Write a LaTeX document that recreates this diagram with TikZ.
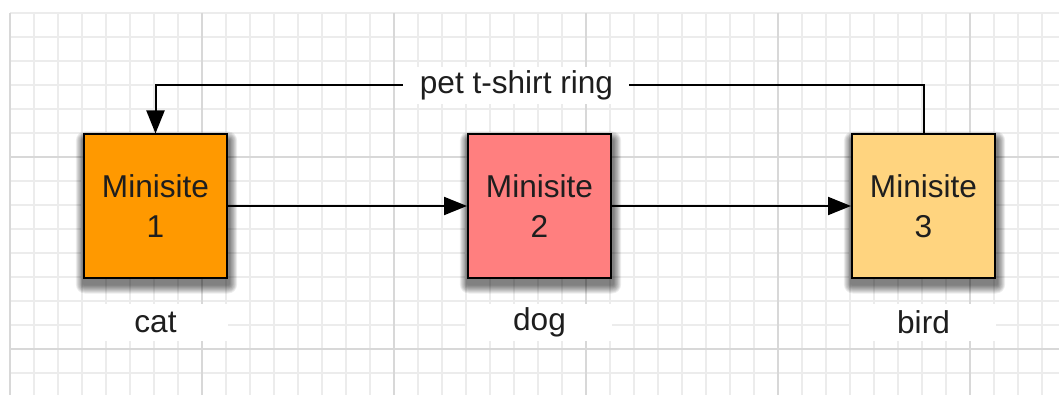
\documentclass[tikz,border=0pt]{standalone}
\usepackage{fontspec}
\setmainfont{Liberation Sans}
\usetikzlibrary{arrows.meta}
\definecolor{siteone}{RGB}{255,153,0}
\definecolor{sitetwo}{RGB}{255,127,127}
\definecolor{sitethree}{RGB}{255,212,127}
\definecolor{gridminor}{RGB}{236,236,236}
\definecolor{gridmajor}{RGB}{216,216,216}
\definecolor{ink}{RGB}{30,30,30}
\pgfdeclarelayer{paper}
\pgfdeclarelayer{shade}
\pgfsetlayers{paper,shade,main}
\tikzset{
    minorline/.style={gridminor, line width=1.5pt},
    majorline/.style={gridmajor, line width=2pt},
    site/.style={
        draw=black,
        line width=2pt,
        minimum size=143pt,
        inner sep=0pt,
        align=center,
        text=ink,
        font=\fontsize{31.6}{40}\selectfont,
    },
    tag/.style={
        fill=white,
        minimum width=145pt,
        minimum height=37pt,
        inner sep=0pt,
        text=ink,
        font=\fontsize{31.6}{38}\selectfont,
    },
    ringlabel/.style={
        fill=white,
        minimum width=226pt,
        minimum height=37pt,
        inner sep=0pt,
        text=ink,
        font=\fontsize{31.6}{38}\selectfont,
    },
    link/.style={
        draw=black,
        line width=2pt,
        -{Triangle[length=23pt,width=18pt]},
    },
}
\begin{document}
\begin{tikzpicture}[x=1pt,y=-1pt]
    \useasboundingbox (0,0) rectangle (1059,395);
    % grid
    \begin{pgfonlayer}{paper}
        \fill[white] (0,0) rectangle (1059,395);
        \foreach \gx in {0,...,43}
            \draw[minorline] ({10+24*\gx},13) -- ({10+24*\gx},395);
        \foreach \gy in {0,...,15}
            \draw[minorline] (10,{13+24*\gy}) -- (1059,{13+24*\gy});
        \foreach \gx in {0,...,5}
            \draw[majorline] ({10+192*\gx},13) -- ({10+192*\gx},395);
        \foreach \gy in {157,349}
            \draw[majorline] (10,\gy) -- (1059,\gy);
    \end{pgfonlayer}

    % sites
    \node[site, fill=siteone] (site1) at (155.5,206) {Minisite\\1};
    \node[site, fill=sitetwo] (site2) at (539.5,206) {Minisite\\2};
    \node[site, fill=sitethree] (site3) at (923.5,206) {Minisite\\3};

    % shadows
    \begin{pgfonlayer}{shade}
        \foreach \s in {site1,site2,site3}
            \foreach \e in {1,...,9}
                \fill[black, opacity=0.07, rounded corners={\e pt}]
                    ([xshift={1pt-0.9*\e*1pt}, yshift={-6pt-\e*1pt}]\s.south west) rectangle
                    ([xshift={1pt+0.9*\e*1pt}, yshift={\e*1pt-7pt}]\s.north east);
    \end{pgfonlayer}

    \node[tag] (cat) at (155.5,322) {cat};
    \node[tag] (dog) at (539.5,322) {dog};
    \node[tag] (bird) at (923.5,322) {bird};

    % links
    \draw[link] (site1.east) -- (site2.west);
    \draw[link] (site2.east) -- (site3.west);
    \draw[link] (site3.north) -- ++(0,-48)
        -| node[ringlabel, pos=0.265] (ring) {pet t-shirt ring} (site1.north);
\end{tikzpicture}
\end{document}
